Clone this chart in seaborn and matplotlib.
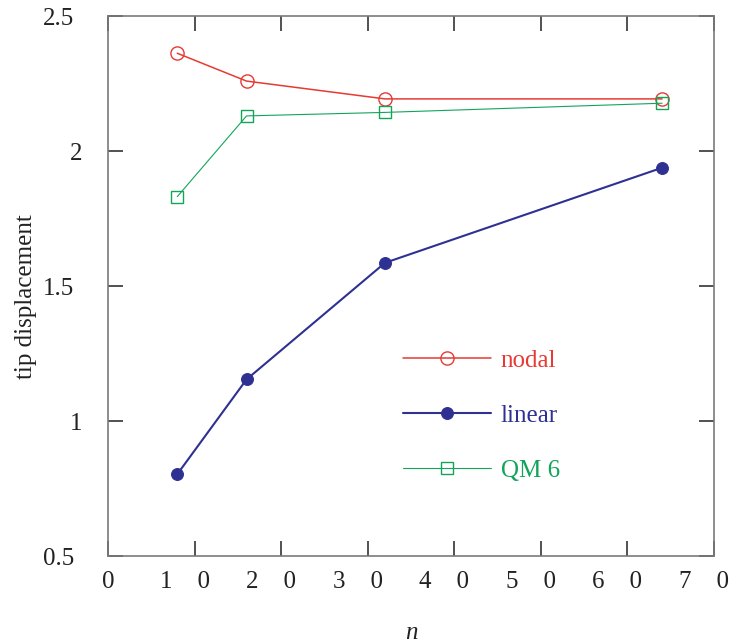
import matplotlib
matplotlib.use("Agg")
import matplotlib.pyplot as plt
import matplotlib.transforms as mtransforms
import seaborn as sns
import pandas as pd

# ---- data ----
n_values = [8, 16, 32, 64]
nodal = [2.362, 2.259, 2.193, 2.193]
linear = [0.803, 1.154, 1.586, 1.938]
qm6 = [1.831, 2.130, 2.143, 2.177]
series_names = ["nodal", "linear", "QM 6"]
x_ticks = [0, 10, 20, 30, 40, 50, 60, 70]
x_tick_labels = ["0", "1    0", "2    0", "3    0", "4    0", "5    0", "6    0", "7    0"]
y_ticks = [0.5, 1, 1.5, 2, 2.5]
y_tick_labels = ["0.5", "1", "1.5", "2", "2.5"]

sns.set_theme(style="white")
plt.rcParams["font.family"] = ["Liberation Serif", "DejaVu Serif"]
plt.rcParams["mathtext.fontset"] = "stix"

RED = "#e63a33"
BLUE = "#2e3192"
GREEN = "#12a55a"

fig = plt.figure(figsize=(7.42, 6.43), dpi=100)
ax = fig.add_axes([0.1456, 0.1353, 0.8167, 0.8398])

df = pd.DataFrame({"n": n_values, "nodal": nodal, "linear": linear, "qm6": qm6})

sns.lineplot(data=df, x="n", y="nodal", ax=ax, color=RED, lw=1.1,
             marker="o", markersize=9.5, markerfacecolor="none",
             markeredgecolor=RED, markeredgewidth=1.0, label=series_names[0])
sns.lineplot(data=df, x="n", y="linear", ax=ax, color=BLUE, lw=1.5,
             marker="o", markersize=8.5, markerfacecolor=BLUE,
             markeredgecolor=BLUE, markeredgewidth=0.8, label=series_names[1])
sns.lineplot(data=df, x="n", y="qm6", ax=ax, color=GREEN, lw=0.8,
             marker="s", markersize=8, markerfacecolor="none",
             markeredgecolor=GREEN, markeredgewidth=1.0, label=series_names[2])

ax.set_xlim(0, 70)
ax.set_ylim(0.5, 2.5)
ax.set_xticks(x_ticks)
ax.set_xticklabels(x_tick_labels)
ax.set_yticks(y_ticks)
ax.set_yticklabels(y_tick_labels)

for s in ax.spines.values():
    s.set_visible(True)
    s.set_color("#7a7a7a")
    s.set_linewidth(1.2)

ax.tick_params(axis="both", direction="in", length=11, width=1.2,
               color="#333333", labelsize=18, labelcolor="#222222",
               top=True, right=True, bottom=True, left=True)
ax.tick_params(axis="x", pad=11)
ax.tick_params(axis="y", pad=24.5)

# shift two-digit x labels left, integer y labels right (as in the reference)
off_x = mtransforms.ScaledTranslation(-10 / 100, 0, fig.dpi_scale_trans)
for lab, t in zip(ax.get_xticklabels(), x_tick_labels):
    if len(t) > 1:
        lab.set_transform(lab.get_transform() + off_x)
off_y = mtransforms.ScaledTranslation(8 / 100, 0, fig.dpi_scale_trans)
for lab, t in zip(ax.get_yticklabels(), y_tick_labels):
    if "." not in t:
        lab.set_transform(lab.get_transform() + off_y)

ax.set_xlabel("n", fontsize=18, fontstyle="italic", color="#222222")
ax.set_ylabel("tip displacement", fontsize=18, color="#222222")
ax.xaxis.set_label_coords(0.5, -0.122)
ax.yaxis.set_label_coords(-0.118, 0.48)

leg = ax.legend(loc="center left", bbox_to_anchor=(0.487, 0.26),
                frameon=False, fontsize=18, handlelength=3.5,
                handletextpad=0.4, labelspacing=1.3, borderaxespad=0,
                borderpad=0, labelcolor="linecolor")

fig.savefig("out.png", dpi=100)
